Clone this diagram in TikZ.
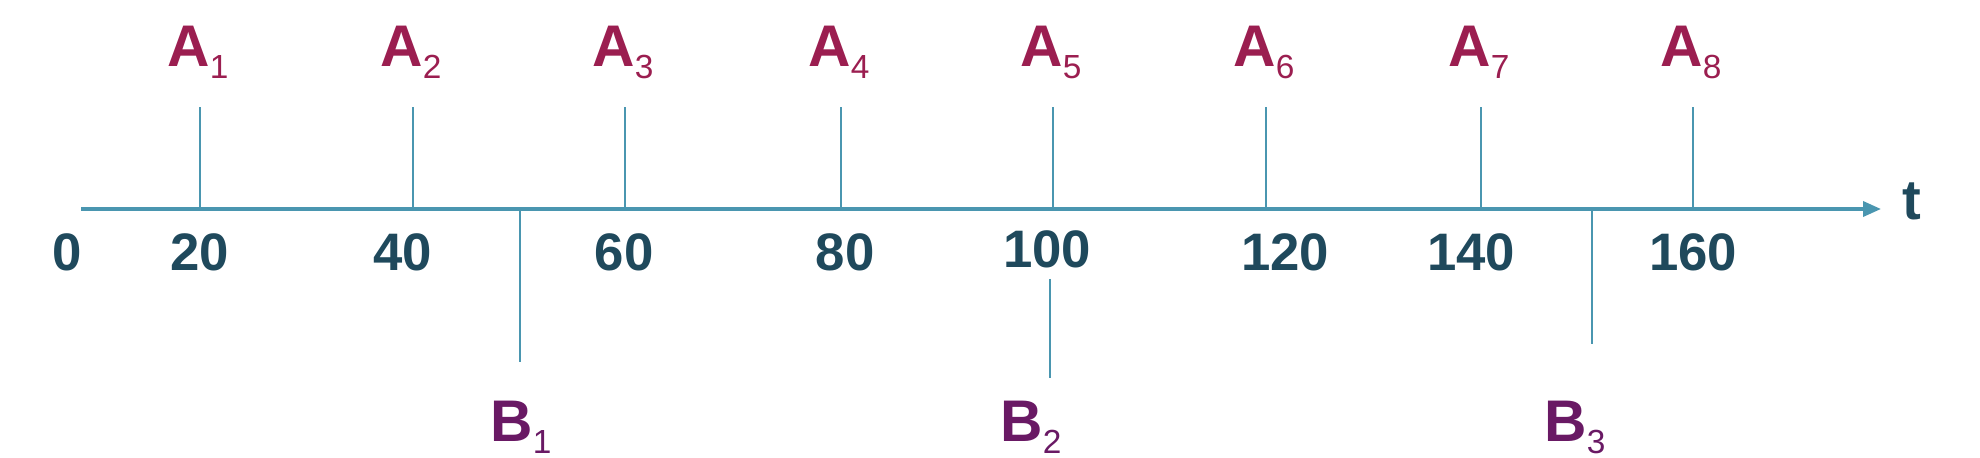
\documentclass[tikz,border=0pt]{standalone}
\usepackage{fontspec}
\setmainfont{Liberation Sans}
\usetikzlibrary{arrows.meta}

\definecolor{axiscol}{RGB}{74,150,176}
\definecolor{numcol}{RGB}{31,73,92}
\definecolor{acol}{RGB}{155,30,80}
\definecolor{bcol}{RGB}{105,25,100}

\newcommand{\evlabel}[2]{\textbf{#1}\raisebox{-0.12cm}{\fontsize{9.5}{10}\selectfont #2}}

\begin{document}
\begin{tikzpicture}[x=0.01cm,y=-0.01cm,
    evtick/.style={axiscol, line width=0.8pt},
    numlab/.style={numcol, anchor=base, inner sep=0pt, font=\fontsize{15}{18}\selectfont\bfseries},
    evlab/.style={anchor=base, inner sep=0pt, font=\fontsize{16.7}{20}\selectfont}]
    \useasboundingbox (0,0) rectangle (1980,458);

    % パラメータの定義
    \pgfmathsetmacro{\yax}{209}
    \pgfmathsetmacro{\ytop}{107}

    % 時間軸の座標
    \coordinate (O) at (81,\yax);
    \coordinate (E) at (1881,\yax);

    % A の目盛りの座標
    \coordinate (a1) at (200,\yax);  \coordinate (a1t) at (200,\ytop);
    \coordinate (a2) at (413,\yax);  \coordinate (a2t) at (413,\ytop);
    \coordinate (a3) at (625,\yax);  \coordinate (a3t) at (625,\ytop);
    \coordinate (a4) at (841,\yax);  \coordinate (a4t) at (841,\ytop);
    \coordinate (a5) at (1053,\yax); \coordinate (a5t) at (1053,\ytop);
    \coordinate (a6) at (1266,\yax); \coordinate (a6t) at (1266,\ytop);
    \coordinate (a7) at (1481,\yax); \coordinate (a7t) at (1481,\ytop);
    \coordinate (a8) at (1693,\yax); \coordinate (a8t) at (1693,\ytop);

    % B の目盛りの座標
    \coordinate (b1) at (520,\yax);  \coordinate (b1e) at (520,362);
    \coordinate (b2) at (1050,279);  \coordinate (b2e) at (1050,378);
    \coordinate (b3) at (1592,\yax); \coordinate (b3e) at (1592,344);

    % 線の描画
    \draw [axiscol, line width=1pt, -{Triangle[length=0.18cm,width=0.15cm]}] (O) -- (E);
    \draw [evtick] (a1) -- (a1t);
    \draw [evtick] (a2) -- (a2t);
    \draw [evtick] (a3) -- (a3t);
    \draw [evtick] (a4) -- (a4t);
    \draw [evtick] (a5) -- (a5t);
    \draw [evtick] (a6) -- (a6t);
    \draw [evtick] (a7) -- (a7t);
    \draw [evtick] (a8) -- (a8t);
    \draw [evtick] (b1) -- (b1e);
    \draw [evtick] (b2) -- (b2e);
    \draw [evtick] (b3) -- (b3e);

    % 目盛りの数値
    \node [numlab] (n0)   at (67,271)   {0};
    \node [numlab] (n20)  at (200,271)  {20};
    \node [numlab] (n40)  at (403,271)  {40};
    \node [numlab] (n60)  at (624,271)  {60};
    \node [numlab] (n80)  at (845,271)  {80};
    \node [numlab] (n100) at (1047,268) {100};
    \node [numlab] (n120) at (1285,271) {120};
    \node [numlab] (n140) at (1471,271) {140};
    \node [numlab] (n160) at (1693,271) {160};
    \node [numlab, font=\fontsize{16}{18}\selectfont\bfseries] (t) at (1912,220) {t};

    % A のラベル
    \node [evlab, acol] (A1) at (198,67)  {\evlabel{A}{1}};
    \node [evlab, acol] (A2) at (411,67)  {\evlabel{A}{2}};
    \node [evlab, acol] (A3) at (623,67)  {\evlabel{A}{3}};
    \node [evlab, acol] (A4) at (839,67)  {\evlabel{A}{4}};
    \node [evlab, acol] (A5) at (1051,67) {\evlabel{A}{5}};
    \node [evlab, acol] (A6) at (1264,67) {\evlabel{A}{6}};
    \node [evlab, acol] (A7) at (1479,67) {\evlabel{A}{7}};
    \node [evlab, acol] (A8) at (1691,67) {\evlabel{A}{8}};

    % B のラベル
    \node [evlab, bcol] (B1) at (521,441)  {\evlabel{B}{1}};
    \node [evlab, bcol] (B2) at (1031,441) {\evlabel{B}{2}};
    \node [evlab, bcol] (B3) at (1575,441) {\evlabel{B}{3}};

\end{tikzpicture}
\end{document}
